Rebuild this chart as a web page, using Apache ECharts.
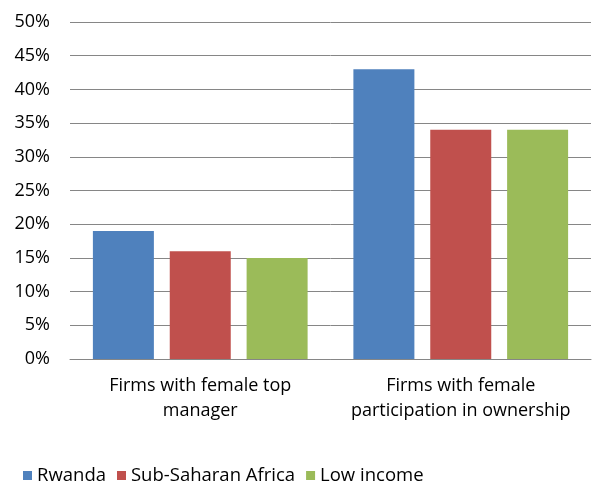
<!DOCTYPE html>
<html>
<head>
<meta charset="utf-8">
<script src="https://cdn.jsdelivr.net/npm/echarts@6/dist/echarts.min.js"></script>
<style>
  html, body { margin: 0; padding: 0; background: #fff; }
  #main { width: 592px; height: 484px; }
</style>
</head>
<body>
<div id="main"></div>
<script>
// categories and values (percent)
const categories = ['Firms with female top\nmanager', 'Firms with female\nparticipation in ownership']
const rwanda = [19, 43]
const subSaharan = [16, 34]
const lowIncome = [15, 34]
const yTicks = [0, 50, 5]  // min, max, step

const font = '"Open Sans", "Noto Sans", sans-serif'

const chart = echarts.init(document.getElementById('main'))

function bar(name, data, color) {
    return {
        name: name,
        type: 'bar',
        data: data,
        barWidth: 61,
        barGap: '26%',
        itemStyle: { color: color },
        silent: true
    }
}

chart.setOption({
    animation: false,
    textStyle: { fontFamily: font },
    grid: { left: 70, right: 1, top: 22, bottom: 125, containLabel: false },
    legend: {
        left: 18,
        top: 461,
        itemWidth: 9,
        itemHeight: 9,
        itemGap: 11,
        icon: 'rect',
        textStyle: { fontSize: 18.5, color: '#000', fontFamily: font },
        data: ['Rwanda', 'Sub-Saharan Africa', 'Low income']
    },
    xAxis: {
        type: 'category',
        data: categories,
        axisTick: { show: false },
        axisLine: { lineStyle: { color: '#868686', width: 1 } },
        axisLabel: {
            interval: 0,
            color: '#000',
            fontSize: 18,
            lineHeight: 25,
            margin: 14,
            fontFamily: font
        }
    },
    yAxis: {
        type: 'value',
        min: yTicks[0],
        max: yTicks[1],
        interval: yTicks[2],
        axisLine: { show: false },
        axisTick: { show: false },
        splitLine: { lineStyle: { color: '#868686', width: 1 } },
        axisLabel: {
            color: '#000',
            fontSize: 18,
            margin: 20,
            fontFamily: font,
            formatter: '{value}%'
        }
    },
    series: [
        bar('Rwanda', rwanda, '#4F81BD'),
        bar('Sub-Saharan Africa', subSaharan, '#C0504D'),
        bar('Low income', lowIncome, '#9BBB59')
    ]
})
</script>
</body>
</html>
